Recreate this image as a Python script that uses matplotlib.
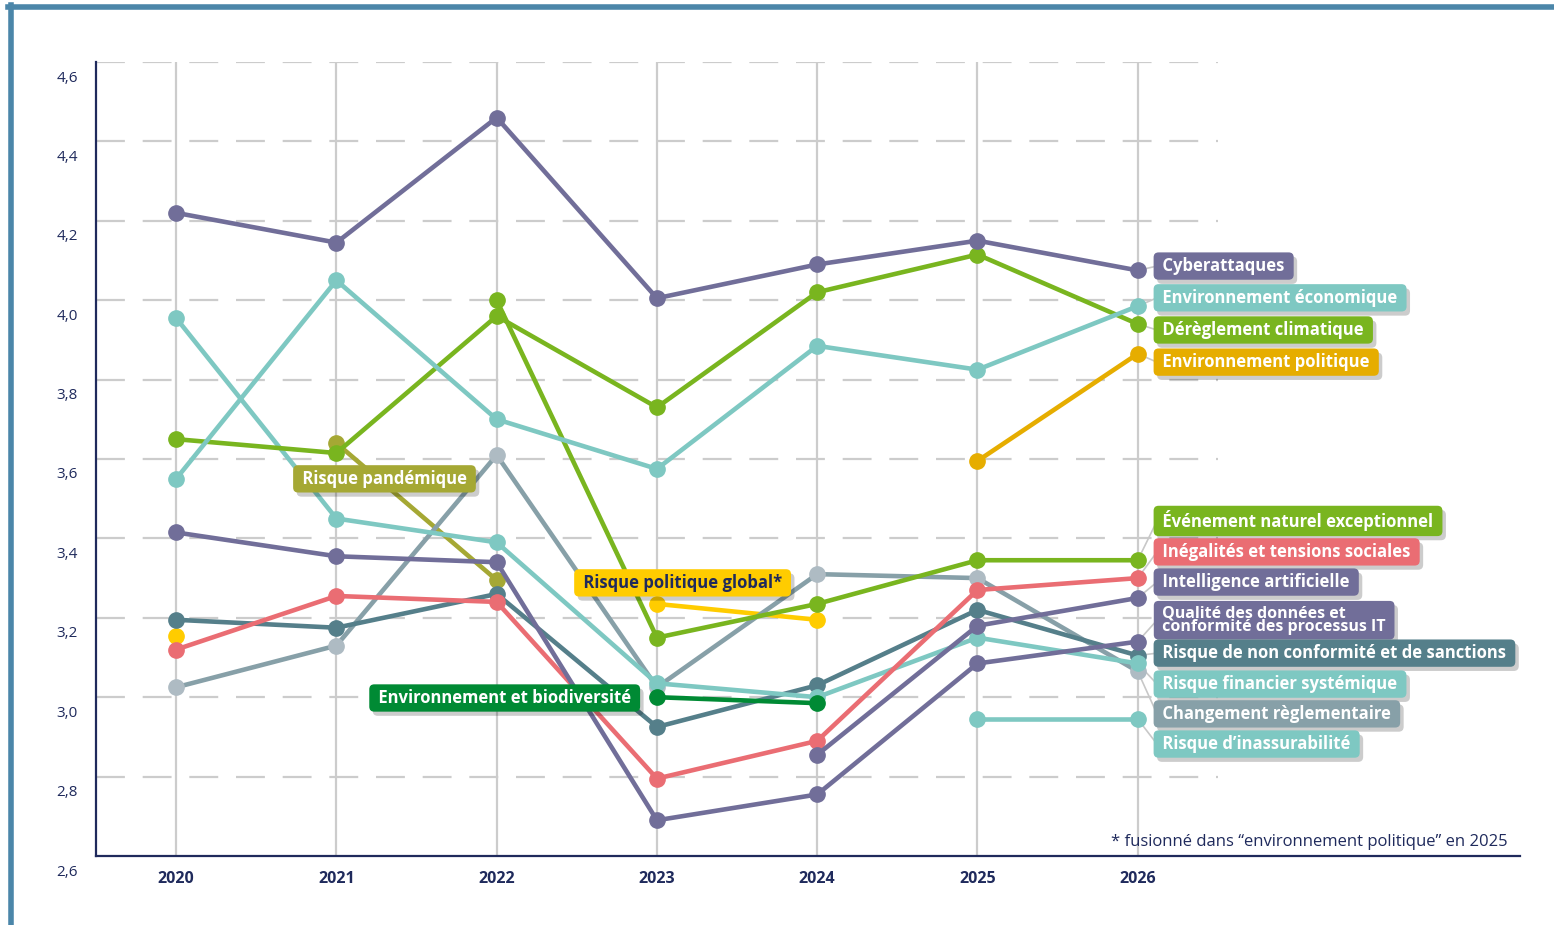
import numpy as np
import matplotlib
matplotlib.use("Agg")
import matplotlib.pyplot as plt
import matplotlib.patheffects as pe
from matplotlib.transforms import ScaledTranslation
from matplotlib.lines import Line2D

plt.rcParams["font.family"] = ["Open Sans", "DejaVu Sans"]

nan = np.nan
years = [2020, 2021, 2022, 2023, 2024, 2025, 2026]
yticks = [2.6, 2.8, 3.0, 3.2, 3.4, 3.6, 3.8, 4.0, 4.2, 4.4, 4.6]
ytick_labels = ["2,6", "2,8", "3,0", "3,2", "3,4", "3,6", "3,8", "4,0", "4,2", "4,4", "4,6"]

cyber = [4.22, 4.145, 4.46, 4.005, 4.09, 4.15, 4.075]
env_eco = [3.55, 4.05, 3.70, 3.575, 3.885, 3.825, 3.985]
dereglement = [3.65, 3.615, 3.96, 3.73, 4.02, 4.115, 3.94]
env_pol = [nan, nan, nan, nan, nan, 3.595, 3.865]
evenement = [nan, nan, 4.0, 3.15, 3.235, 3.345, 3.345]
inegalites = [3.12, 3.255, 3.24, 2.795, 2.89, 3.27, 3.30]
ia = [nan, nan, nan, nan, 2.855, 3.18, 3.25]
qualite = [3.415, 3.355, 3.34, 2.69, 2.755, 3.085, 3.14]
non_conf = [3.195, 3.175, 3.26, 2.925, 3.03, 3.22, 3.105]
financier = [3.955, 3.45, 3.39, 3.035, 3.0, 3.15, 3.085]
changement = [3.025, 3.13, 3.61, 3.025, 3.31, 3.30, 3.065]
inassurabilite = [nan, nan, nan, nan, nan, 2.945, 2.945]
pandemique = [nan, 3.64, 3.295, nan, nan, nan, nan]
politique_global = [3.155, nan, nan, 3.235, 3.195, nan, nan]
biodiversite = [nan, nan, nan, 3.0, 2.985, nan, nan]

NAVY = "#1f2a5c"
PURPLE = "#716e99"
TEAL = "#7ec8c2"
GREEN = "#79b51f"
GOLD = "#e6ad00"
YELLOW = "#ffcc00"
OLIVE = "#a5a834"
RED = "#ea6d73"
DTEAL = "#557f8a"
GREY = "#87a0a8"
GREY_M = "#aebbc3"
DGREEN = "#008a34"

fig = plt.figure(figsize=(15.54, 9.25), dpi=100)
ax = fig.add_axes([96 / 1554, 1 - 856 / 925, (1520 - 96) / 1554, (856 - 62) / 925])

# series: (values, line colour, marker colour)
series = [
    (politique_global, YELLOW, YELLOW),
    (pandemique, OLIVE, OLIVE),
    (changement, GREY, GREY_M),
    (non_conf, DTEAL, DTEAL),
    (financier, TEAL, TEAL),
    (biodiversite, DGREEN, DGREEN),
    (inassurabilite, TEAL, TEAL),
    (inegalites, RED, RED),
    (qualite, PURPLE, PURPLE),
    (ia, PURPLE, PURPLE),
    (evenement, GREEN, GREEN),
    (dereglement, GREEN, GREEN),
    (env_eco, TEAL, TEAL),
    (env_pol, GOLD, GOLD),
    (cyber, PURPLE, PURPLE),
]
for vals, c, mc in series:
    ax.plot(years, vals, color=c, lw=3.3, marker="o", ms=11,
            mfc=mc, mec=mc, zorder=3, solid_capstyle="round")

ax.set_xlim(2019.5, 2028.385)
ax.set_ylim(2.6, 4.6)

# grid
for y in yticks[1:]:
    ax.plot([2019.5, 2026.5], [y, y], color="#cccccc", lw=1.6,
            dashes=(13, 8), zorder=1)
for x in years:
    ax.plot([x, x], [2.6, 4.6], color="#cccccc", lw=1.6, zorder=1)

for s in ["top", "right"]:
    ax.spines[s].set_visible(False)
for s in ["left", "bottom"]:
    ax.spines[s].set_color(NAVY)
    ax.spines[s].set_linewidth(1.6)

ax.set_yticks(yticks)
ax.set_yticklabels(ytick_labels, fontsize=11, color=NAVY)
ax.set_xticks(years)
ax.set_xticklabels([str(y) for y in years], fontsize=11.5, color=NAVY,
                   fontweight="bold")
ax.tick_params(axis="y", length=0, pad=13)
ax.tick_params(axis="x", length=0, pad=11)
off = ScaledTranslation(0, -0.14, fig.dpi_scale_trans)
for lbl in ax.get_yticklabels():
    lbl.set_transform(lbl.get_transform() + off)


def tag(x, y, text, fc, tc="white", ha="left", fs=12, ls=1.0):
    # a space either side gives the wider horizontal padding of the boxes
    text = "\n".join(" " + part + " " for part in text.split("\n"))
    t = ax.text(x, y, text, ha=ha, va="center", fontsize=fs, fontweight="bold",
                color=tc, linespacing=ls, zorder=6,
                bbox=dict(boxstyle="round,pad=0.28,rounding_size=0.3",
                          fc=fc, ec="none"))
    t.get_bbox_patch().set_path_effects(
        [pe.SimplePatchShadow(offset=(2.5, -3), shadow_rgbFace="black", alpha=0.2),
         pe.Normal()])


# labels at the right end
right_labels = [
    ("Cyberattaques", cyber, PURPLE, 4.086),
    ("Environnement économique", env_eco, TEAL, 4.006),
    ("Dérèglement climatique", dereglement, GREEN, 3.925),
    ("Environnement politique", env_pol, GOLD, 3.844),
    ("Événement naturel exceptionnel", evenement, GREEN, 3.444),
    ("Inégalités et tensions sociales", inegalites, RED, 3.366),
    ("Intelligence artificielle", ia, PURPLE, 3.290),
    ("Qualité des données et\nconformité des processus IT", qualite, PURPLE, 3.194),
    ("Risque de non conformité et de sanctions", non_conf, DTEAL, 3.111),
    ("Risque financier systémique", financier, TEAL, 3.033),
    ("Changement règlementaire", changement, GREY, 2.958),
    ("Risque d’inassurabilité", inassurabilite, TEAL, 2.882),
]
for text, vals, c, ly in right_labels:
    ax.plot([2026, 2026.12], [vals[-1], ly], color="#c8c8c8", lw=1.2, zorder=2)
    fs = 11.5 if "\n" in text else 12
    tag(2026.128, ly, text, c, fs=fs, ls=0.8)

tag(2021.30, 3.550, "Risque pandémique", OLIVE, ha="center")
tag(2023.16, 3.288, "Risque politique global*", YELLOW, tc=NAVY, ha="center")
tag(2022.05, 2.998, "Environnement et biodiversité", DGREEN, ha="center")

fig.text(1508 / 1554, 1 - 842 / 925,
         "* fusionné dans “environnement politique” en 2025",
         ha="right", va="center", fontsize=12, color=NAVY)

# frame
BLUE = "#4b86a9"
fig.add_artist(Line2D([8 / 1554, 1], [1 - 7 / 925, 1 - 7 / 925],
                      color=BLUE, lw=4, transform=fig.transFigure))
fig.add_artist(Line2D([11 / 1554, 11 / 1554], [0, 1 - 5 / 925],
                      color=BLUE, lw=4, transform=fig.transFigure))

fig.savefig("out.png", dpi=100)
